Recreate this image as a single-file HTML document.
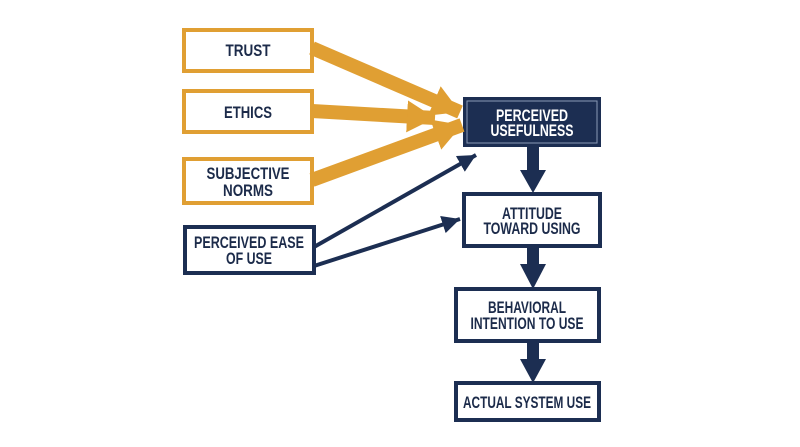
<!DOCTYPE html>
<html><head><meta charset="utf-8"><style>
body{margin:0;background:#fff;}
svg{display:block}
text{font-family:"Liberation Sans",sans-serif;font-weight:bold;fill:#1c2b4a;text-anchor:middle;font-size:17px}
</style></head><body>
<svg width="800" height="447" viewBox="0 0 800 447">
<defs>
<marker id="g" markerUnits="userSpaceOnUse" markerWidth="32" markerHeight="34" refX="28" refY="16" orient="auto"><path d="M0,0 L28,16 L0,32 Z" fill="#e09f33"/></marker>
<marker id="n" markerUnits="userSpaceOnUse" markerWidth="22" markerHeight="20" refX="18" refY="9" orient="auto"><path d="M0,0 L18,9 L0,18 Z" fill="#1c2e52"/></marker>
</defs>
<g fill="#fff" stroke="#e09f33" stroke-width="4">
<rect x="184" y="30" width="128" height="41"/>
<rect x="184" y="91" width="128" height="41"/>
<rect x="184" y="159" width="128" height="44"/>
</g>
<g fill="#fff" stroke="#1c2e52" stroke-width="4">
<rect x="185" y="227" width="129" height="46"/>
<rect x="464" y="194" width="136" height="52"/>
<rect x="456" y="289" width="143" height="52"/>
<rect x="456" y="383" width="143" height="37"/>
</g>
<rect x="463" y="97" width="138" height="50" fill="#1c2e52"/>
<rect x="467" y="101" width="130" height="42" fill="none" stroke="#8a9ab5" stroke-width="1"/>
<g stroke="#e09f33" stroke-width="14">
<line x1="312" y1="48" x2="460" y2="112" marker-end="url(#g)"/>
<line x1="312" y1="111" x2="435" y2="118" marker-end="url(#g)"/>
<line x1="312" y1="180" x2="462" y2="125" marker-end="url(#g)"/>
</g>
<g stroke="#1c2e52" stroke-width="4">
<line x1="314" y1="247" x2="476" y2="155" marker-end="url(#n)"/>
<line x1="314" y1="266" x2="460" y2="219" marker-end="url(#n)"/>
</g>
<g fill="#1c2e52">
<rect x="527" y="147" width="12" height="25"/><path d="M520,170 L546,170 L533,193 Z"/>
<rect x="527" y="246" width="12" height="20"/><path d="M520,264 L546,264 L533,289 Z"/>
<rect x="527" y="341" width="12" height="20"/><path d="M520,359 L546,359 L533,383 Z"/>
</g>
<g>
<text x="248" y="56" textLength="45" lengthAdjust="spacingAndGlyphs">TRUST</text>
<text x="248" y="118" textLength="48" lengthAdjust="spacingAndGlyphs">ETHICS</text>
<text x="248" y="179" textLength="83" lengthAdjust="spacingAndGlyphs">SUBJECTIVE</text>
<text x="248" y="196" textLength="50" lengthAdjust="spacingAndGlyphs">NORMS</text>
<text x="249" y="248" textLength="110" lengthAdjust="spacingAndGlyphs">PERCEIVED EASE</text>
<text x="249" y="264" textLength="46" lengthAdjust="spacingAndGlyphs">OF USE</text>
<text x="532" y="121" textLength="72" lengthAdjust="spacingAndGlyphs" style="fill:#fff">PERCEIVED</text>
<text x="532" y="136" textLength="83" lengthAdjust="spacingAndGlyphs" style="fill:#fff">USEFULNESS</text>
<text x="532" y="219" textLength="60" lengthAdjust="spacingAndGlyphs">ATTITUDE</text>
<text x="532" y="234" textLength="97" lengthAdjust="spacingAndGlyphs">TOWARD USING</text>
<text x="527" y="313" textLength="78" lengthAdjust="spacingAndGlyphs">BEHAVIORAL</text>
<text x="527" y="329" textLength="113" lengthAdjust="spacingAndGlyphs">INTENTION TO USE</text>
<text x="527" y="408" textLength="128" lengthAdjust="spacingAndGlyphs">ACTUAL SYSTEM USE</text>
</g>
</svg>
</body></html>
